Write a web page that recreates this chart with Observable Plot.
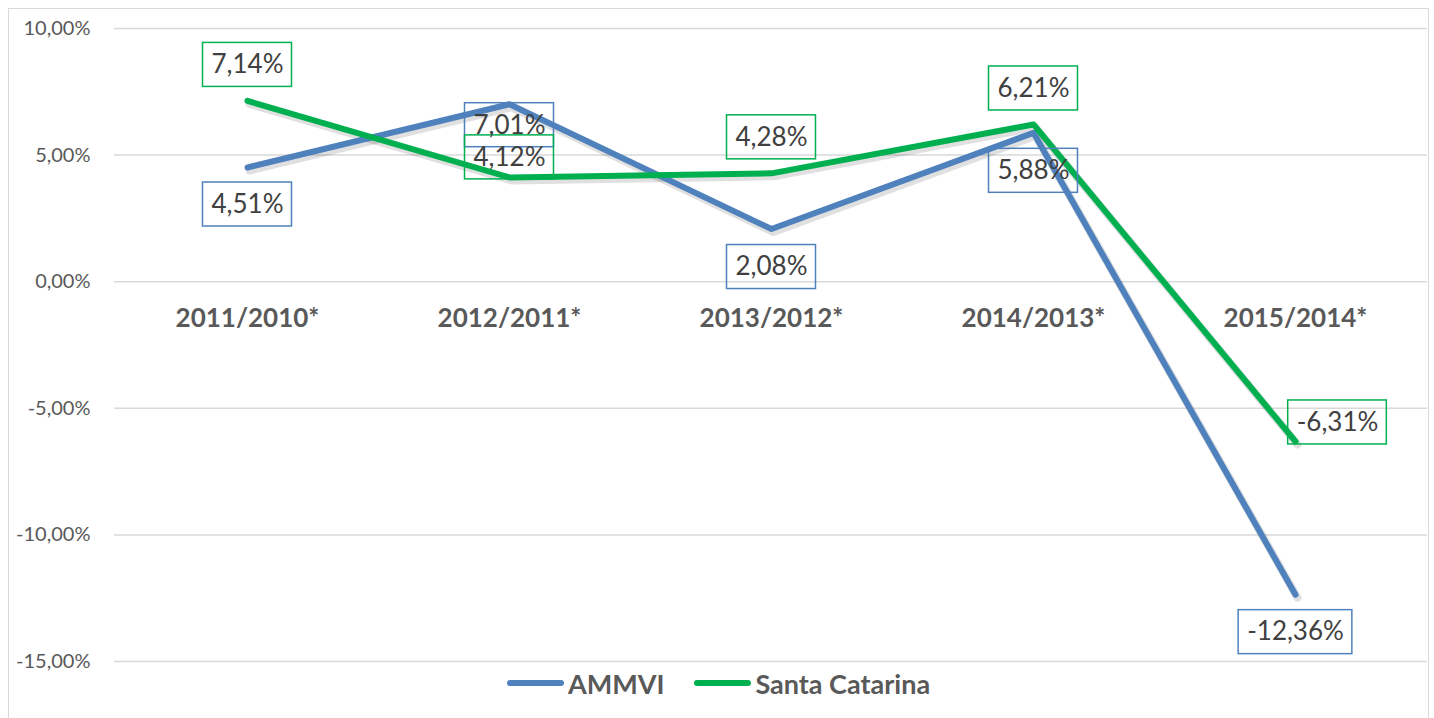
<!DOCTYPE html>
<html>
<head>
<meta charset="utf-8">
<script src="https://cdn.jsdelivr.net/npm/d3@7"></script>
<script src="https://cdn.jsdelivr.net/npm/@observablehq/plot@0.6"></script>
<style>
  html, body { margin: 0; padding: 0; background: #fff; }
  #frame { position: absolute; left: 8px; top: 8px; width: 1419px; height: 730px;
           border: 1.5px solid #d9d9d9; box-sizing: content-box; overflow: hidden; }
  #chart svg { display: block; }
  #legend { position: relative; margin-top: -11px; display: flex; justify-content: center; align-items: center; height: 30px;
            font-family: Lato, sans-serif; font-weight: bold; font-size: 27px; color: #595959; }
  .item { display: flex; align-items: center; margin: 0 15px; }
  .swatch { width: 57px; height: 6px; border-radius: 3px; margin-right: 4px; }
</style>
</head>
<body>
<div id="frame"><div id="chart"></div><div id="legend"></div></div>
<script>
const categories = ["2011/2010*", "2012/2011*", "2013/2012*", "2014/2013*", "2015/2014*"];
const ammvi = [4.51, 7.01, 2.08, 5.88, -12.36];
const santaCatarina = [7.14, 4.12, 4.28, 6.21, -6.31];
const yTicks = [-15, -10, -5, 0, 5, 10];
const seriesNames = ["AMMVI", "Santa Catarina"];
const seriesColors = ["#4F81BD", "#00B050"];

// label placement offsets (pixels), styling only
const labelOffsets = {
  "AMMVI": [[0, 37], [0, 21], [0, 38], [0, 38], [0, 37.5]],
  "Santa Catarina": [[0, -36], [0, -20], [0, -36], [0, -36], [42, -19]]
};

const fmt = v => v.toFixed(2).replace(".", ",") + "%";

const rows = [];
categories.forEach((c, i) => {
  rows.push({category: c, series: "AMMVI", value: ammvi[i], idx: i});
  rows.push({category: c, series: "Santa Catarina", value: santaCatarina[i], idx: i});
});

const labelFontSize = 26;
const canvas = document.createElement("canvas");
const ctx2d = canvas.getContext("2d");
ctx2d.font = labelFontSize + "px Lato";
const textWidth = s => ctx2d.measureText(s).width;

const labelMarks = rows.map(r => {
  const [dx, dy] = labelOffsets[r.series][r.idx];
  return Plot.text([r], {
    x: "category", y: "value", text: d => fmt(d.value),
    dx, dy, fontSize: labelFontSize, fill: "#404040"
  });
});

// boxes around the data labels, positioned with Plot's scales
const labelBoxes = (index, scales) => {
  const g = d3.create("svg:g");
  rows.forEach(r => {
    const [dx, dy] = labelOffsets[r.series][r.idx];
    const cx = scales.x(r.category) + dx;
    const cy = scales.y(r.value) + dy;
    const w = textWidth(fmt(r.value)) + 17, h = 44;
    g.append("rect")
      .attr("x", cx - w / 2).attr("y", cy - h / 2)
      .attr("width", w).attr("height", h)
      .attr("fill", "none")
      .attr("stroke", seriesColors[seriesNames.indexOf(r.series)])
      .attr("stroke-width", 1.5);
  });
  return g.node();
};

const lineOpts = {x: "category", y: "value", z: "series",
  strokeWidth: 6, strokeLinecap: "round", strokeLinejoin: "round"};

const plot = Plot.plot({
  width: 1419,
  height: 670,
  marginLeft: 105,
  marginRight: 1,
  marginTop: 19,
  marginBottom: 18,
  style: {fontFamily: "Lato, sans-serif", background: "white"},
  x: {type: "point", domain: categories, padding: 0.5, axis: null},
  y: {domain: [-15, 10], axis: null},
  color: {domain: seriesNames, range: seriesColors},
  marks: [
    Plot.gridY(yTicks, {stroke: "#d9d9d9", strokeOpacity: 1, strokeWidth: 1.5}),
    Plot.axisY(yTicks, {tickSize: 0, tickPadding: 24, fontSize: 20, fill: "#595959",
      tickFormat: fmt, textAnchor: "end", label: null}),
    Plot.text(categories, {x: d => d, y: () => 0, dy: 37, fontSize: 26, fontWeight: "bold", fill: "#595959"}),
    Plot.line(rows, {...lineOpts, stroke: "#000", strokeOpacity: 0.12, dx: 2, dy: 3, strokeWidth: 8}),
    Plot.line(rows, {...lineOpts, stroke: "series"}),
    labelBoxes,
    ...labelMarks
  ]
});

document.getElementById("chart").appendChild(plot);

// legend
const legend = document.getElementById("legend");
seriesNames.forEach((name, i) => {
  const item = document.createElement("div");
  item.className = "item";
  const sw = document.createElement("span");
  sw.className = "swatch";
  sw.style.background = seriesColors[i];
  const lab = document.createElement("span");
  lab.textContent = name;
  item.appendChild(sw);
  item.appendChild(lab);
  legend.appendChild(item);
});
</script>
</body>
</html>
